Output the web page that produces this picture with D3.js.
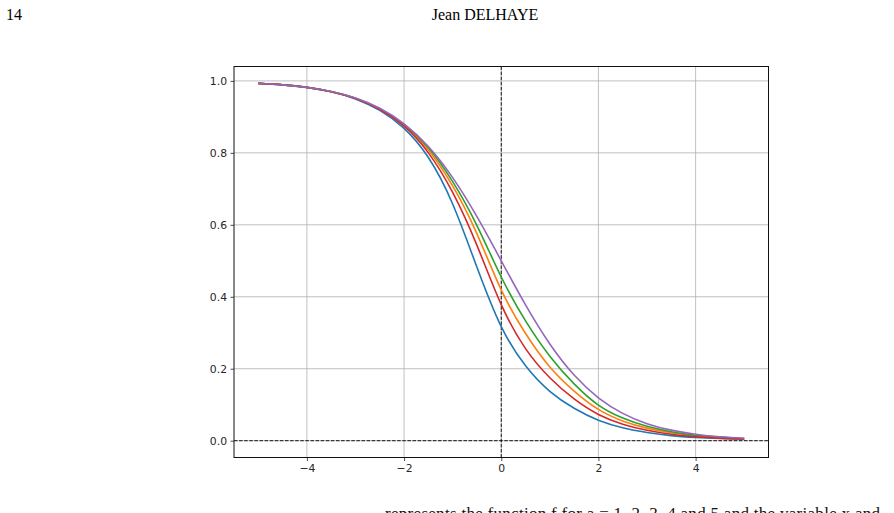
<!DOCTYPE html>
<html>
<head>
<meta charset="utf-8">
<script src="https://cdn.jsdelivr.net/npm/d3@7"></script>
<style>
  html, body { margin: 0; padding: 0; background: #fff; overflow: hidden; }
  svg { display: block; }
</style>
</head>
<body>
<svg id="chart" width="894" height="513"></svg>
<script>
// ---- data ----
const xValues = [-5, -4.5, -4, -3.5, -3, -2.5, -2, -1.5, -1, -0.5, 0, 0.5, 1, 1.5, 2, 2.5, 3, 3.5, 4, 4.5, 5];
const seriesBlue   = [0.993, 0.989, 0.982, 0.970, 0.950, 0.918, 0.868, 0.787, 0.658, 0.482, 0.317, 0.208, 0.137, 0.090, 0.057, 0.036, 0.023, 0.014, 0.009, 0.006, 0.004];
const seriesOrange = [0.993, 0.989, 0.982, 0.970, 0.952, 0.922, 0.877, 0.808, 0.708, 0.575, 0.419, 0.298, 0.205, 0.138, 0.087, 0.055, 0.035, 0.022, 0.013, 0.008, 0.005];
const seriesGreen  = [0.993, 0.989, 0.982, 0.9705, 0.952, 0.923, 0.879, 0.814, 0.720, 0.598, 0.455, 0.333, 0.235, 0.158, 0.099, 0.063, 0.040, 0.025, 0.015, 0.010, 0.006];
const seriesRed    = [0.993, 0.989, 0.982, 0.970, 0.951, 0.921, 0.874, 0.800, 0.690, 0.543, 0.378, 0.256, 0.175, 0.116, 0.073, 0.046, 0.029, 0.018, 0.011, 0.007, 0.005];
const seriesPurple = [0.9933, 0.989, 0.982, 0.9707, 0.9526, 0.9241, 0.8808, 0.8176, 0.7311, 0.6225, 0.500, 0.3775, 0.2689, 0.1824, 0.1192, 0.0759, 0.0474, 0.0293, 0.018, 0.011, 0.0067];
const seriesColors = ["#1f77b4", "#ff7f0e", "#2ca02c", "#d62728", "#9467bd"];
const xTicks = [-4, -2, 0, 2, 4];
const yTicks = [0.0, 0.2, 0.4, 0.6, 0.8, 1.0];
const pageNumber = "14";
const headerTitle = "Jean DELHAYE";
const footerText = "represents the function f for a = 1, 2, 3, 4 and 5 and the variable x and";

const allSeries = [seriesBlue, seriesOrange, seriesGreen, seriesRed, seriesPurple];

// ---- layout ----
const svg = d3.select("#chart");
const plotLeft = 234, plotRight = 768.5, plotTop = 66.5, plotBottom = 457.5;

const x = d3.scaleLinear().domain([-5.5, 5.5]).range([plotLeft, plotRight]);
const y = d3.scaleLinear().domain([-0.0467, 1.0400]).range([plotBottom, plotTop]);

// header
svg.append("text").attr("x", 6).attr("y", 20)
  .attr("font-family", "Liberation Serif, serif").attr("font-size", 16).attr("fill", "#000")
  .text(pageNumber);
svg.append("text").attr("x", 485).attr("y", 20).attr("text-anchor", "middle")
  .attr("font-family", "Liberation Serif, serif").attr("font-size", 16).attr("fill", "#000")
  .text(headerTitle);

// footer (cut off at the bottom edge, as in the reference)
svg.append("text").attr("x", 385).attr("y", 519)
  .attr("font-family", "Liberation Serif, serif").attr("font-size", 17).attr("fill", "#111")
  .attr("textLength", 495).attr("lengthAdjust", "spacing")
  .text(footerText);

const g = svg.append("g");

// grid
g.append("g").selectAll("line").data(xTicks).join("line")
  .attr("x1", d => x(d)).attr("x2", d => x(d)).attr("y1", plotTop).attr("y2", plotBottom)
  .attr("stroke", "#b0b0b0").attr("stroke-width", 0.8);
g.append("g").selectAll("line").data(yTicks).join("line")
  .attr("x1", plotLeft).attr("x2", plotRight).attr("y1", d => y(d)).attr("y2", d => y(d))
  .attr("stroke", "#b0b0b0").attr("stroke-width", 0.8);

// dashed reference lines
g.append("line").attr("x1", x(0)).attr("x2", x(0)).attr("y1", plotTop).attr("y2", plotBottom)
  .attr("stroke", "#000").attr("stroke-width", 0.9).attr("stroke-dasharray", "3.5,1.6");
g.append("line").attr("x1", plotLeft).attr("x2", plotRight).attr("y1", y(0)).attr("y2", y(0))
  .attr("stroke", "#000").attr("stroke-width", 0.9).attr("stroke-dasharray", "3.5,1.6");

// curves
const line = d3.line()
  .x((d, i) => x(xValues[i]))
  .y(d => y(d))
  .curve(d3.curveNatural);
g.append("g").selectAll("path").data(allSeries).join("path")
  .attr("d", d => line(d))
  .attr("fill", "none")
  .attr("stroke", (d, i) => seriesColors[i])
  .attr("stroke-width", 1.6);

// axes
const fmtY = d3.format(".1f");
const fmtX = d => (d < 0 ? "\u2212" + Math.abs(d) : String(d));
const xAxis = d3.axisBottom(x).tickValues(xTicks).tickFormat(fmtX).tickSizeOuter(0).tickSize(3.5).tickPadding(3);
const yAxis = d3.axisLeft(y).tickValues(yTicks).tickFormat(fmtY).tickSizeOuter(0).tickSize(3.5).tickPadding(3.5);

const gx = svg.append("g").attr("transform", `translate(0,${plotBottom})`).call(xAxis);
const gy = svg.append("g").attr("transform", `translate(${plotLeft},0)`).call(yAxis);
[gx, gy].forEach(a => {
  a.select(".domain").remove();
  a.selectAll("text").attr("font-family", "DejaVu Sans, sans-serif").attr("font-size", 10.8).attr("fill", "#262626");
  a.selectAll("line").attr("stroke", "#222").attr("stroke-width", 0.8);
});

// frame
svg.append("rect").attr("x", plotLeft).attr("y", plotTop).attr("width", plotRight - plotLeft).attr("height", plotBottom - plotTop)
  .attr("fill", "none").attr("stroke", "#111").attr("stroke-width", 1);
</script>
</body>
</html>
